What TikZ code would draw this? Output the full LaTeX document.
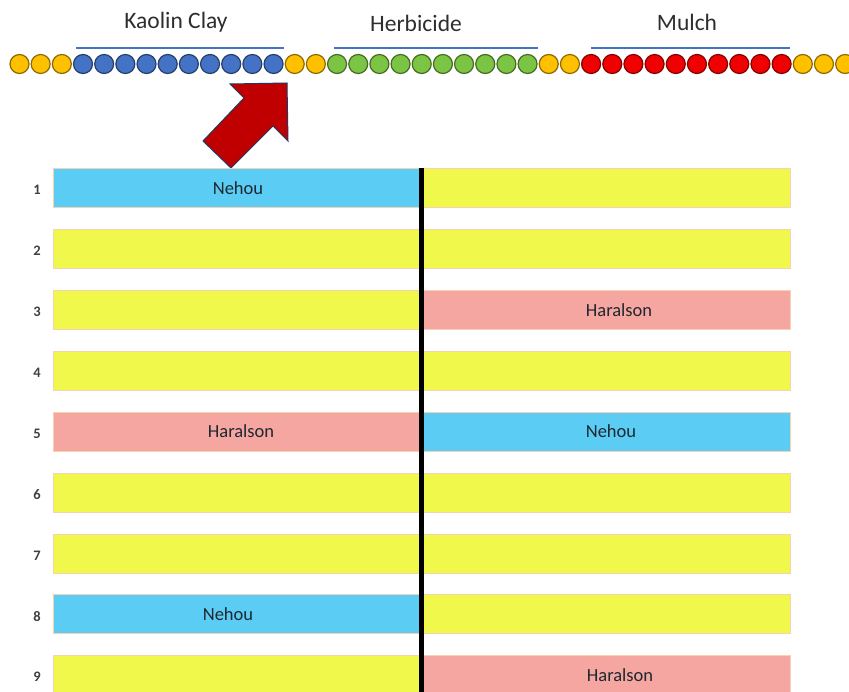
\documentclass[tikz,border=0pt]{standalone}
\usepackage{fontspec}
\setmainfont{Carlito}

% dot colours
\definecolor{dotyellow}{HTML}{FFC000}
\definecolor{dotblue}{HTML}{4472C4}
\definecolor{dotgreen}{HTML}{7CC444}
\definecolor{dotred}{HTML}{F00000}
\definecolor{groupblue}{HTML}{4472C4}
% block arrow
\definecolor{arrowred}{HTML}{C00000}
\definecolor{arrowedge}{HTML}{1F3864}
% plot bars
\definecolor{plainbar}{HTML}{F0F84C}
\definecolor{nehoubar}{HTML}{5BCDF5}
\definecolor{haralbar}{HTML}{F5A6A0}
\definecolor{barrim}{HTML}{F6D2B0}
\definecolor{rowtext}{HTML}{1E2830}

\begin{document}
\begin{tikzpicture}[x=1pt,y=-1pt,
  dot/.style={circle, inner sep=0pt, minimum size=19pt, line width=1.2pt},
  grouplabel/.style={inner sep=0pt, text=black!82, font=\fontsize{23.5}{28}\selectfont},
  groupline/.style={draw=groupblue, line width=2.4pt},
  plotbar/.style={rectangle, draw=barrim, line width=0.7pt, inner sep=0pt,
                  minimum width=368pt, minimum height=39pt},
  barlabel/.style={inner sep=0pt, text=rowtext, font=\fontsize{18.5}{21}\selectfont},
  rownum/.style={inner sep=0pt, text=black!75, font=\bfseries\fontsize{14.5}{17}\selectfont},
  divider/.style={draw=black, line width=5pt},
  blockarrow/.style={fill=arrowred, draw=arrowedge, line width=1pt, line join=miter}
]
\useasboundingbox (0,0) rectangle (849,692);
\fill[white] (0,0) rectangle (849,692);

% ---- row of treatment dots ----
\foreach \i in {0,...,39}{
  \ifnum\i<3 \def\dc{dotyellow}\else
  \ifnum\i<13 \def\dc{dotblue}\else
  \ifnum\i<15 \def\dc{dotyellow}\else
  \ifnum\i<25 \def\dc{dotgreen}\else
  \ifnum\i<27 \def\dc{dotyellow}\else
  \ifnum\i<37 \def\dc{dotred}\else
  \def\dc{dotyellow}\fi\fi\fi\fi\fi\fi
  \node[dot, fill=\dc, draw=\dc!55!black] (c\i) at ({19.5+21.17*\i},64) {};
}

% ---- group headings and brackets ----
\node[grouplabel] (kaolin) at (176,22) {Kaolin Clay};
\node[grouplabel] (herbicide) at (416,23) {Herbicide};
\node[grouplabel] (mulch) at (687,22) {Mulch};
\draw[groupline] (76,48) -- (284,48);
\draw[groupline] (334,48) -- (538,48);
\draw[groupline] (591,48) -- (790,48);

% ---- block arrow ----
\draw[blockarrow] (230,84) -- (287,83) -- (288,141) -- (273,126)
  -- (231,168) -- (203,141) -- (244,98) -- cycle;

% ---- plot rows ----
\foreach \r/\lc/\rc in {1/nehoubar/plainbar, 2/plainbar/plainbar,
    3/plainbar/haralbar, 4/plainbar/plainbar, 5/haralbar/nehoubar,
    6/plainbar/plainbar, 7/plainbar/plainbar, 8/nehoubar/plainbar,
    9/plainbar/haralbar}{
  \pgfmathsetmacro{\ry}{188+60.9*(\r-1)}
  \node[plotbar, fill=\lc] (L\r) at (237,\ry) {};
  \node[plotbar, fill=\rc] (R\r) at (606,\ry) {};
  \node[rownum] (n\r) at (37,\ry+2) {\r};
}

% ---- cultivar names ----
\node[barlabel] (t1) at ([xshift=1pt]L1.center) {Nehou};
\node[barlabel] (t3) at ([xshift=13pt]R3.center) {Haralson};
\node[barlabel] (t5l) at ([xshift=4pt]L5.center) {Haralson};
\node[barlabel] (t5r) at ([xshift=5pt]R5.center) {Nehou};
\node[barlabel] (t8) at ([xshift=-9pt]L8.center) {Nehou};
\node[barlabel] (t9) at ([xshift=14pt]R9.center) {Haralson};

% ---- centre divider ----
\coordinate (divtop) at (421,168);
\coordinate (divbot) at (421,700);
\draw[divider] (divtop) -- (divbot);
\end{tikzpicture}
\end{document}
